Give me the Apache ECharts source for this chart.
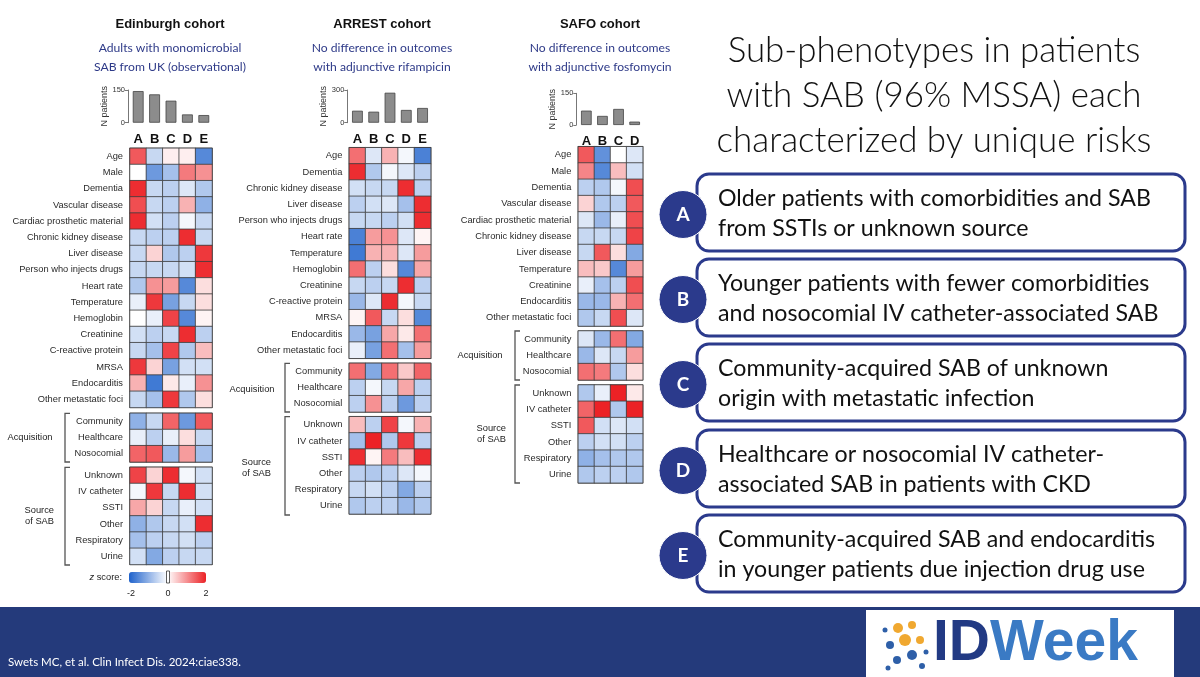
<!DOCTYPE html>
<html><head><meta charset="utf-8">
<script src="https://cdn.jsdelivr.net/npm/echarts@6/dist/echarts.min.js"></script>
<style>html,body{margin:0;padding:0;background:#fff}#c{width:1200px;height:677px}</style>
</head><body><div id="c"></div>
<script>
// ---------- DATA ----------
const acqRows = ['Community','Healthcare','Nosocomial'];
const srcRows = ['Unknown','IV catheter','SSTI','Other','Respiratory','Urine'];

const edinClusters = ['A','B','C','D','E'];
const edinN = [145,130,101,38,35];
const edinFeatures = ['Age','Male','Dementia','Vascular disease','Cardiac prosthetic material','Chronic kidney disease','Liver disease','Person who injects drugs','Heart rate','Temperature','Hemoglobin','Creatinine','C-reactive protein','MRSA','Endocarditis','Other metastatic foci'];
const edinFeatZ = [
 [1.5,-0.5,0.15,0.15,-1.5],
 [0,-1.3,-0.8,1.2,1.0],
 [1.9,-0.5,-0.6,-0.3,-0.7],
 [1.6,-0.5,-0.6,0.7,-1.0],
 [1.9,-0.4,-0.6,-0.1,-0.5],
 [-0.5,-0.6,-0.6,1.9,-0.5],
 [-0.5,0.4,-0.7,-0.6,1.8],
 [-0.5,-0.5,-0.5,-0.4,1.9],
 [-0.7,1.0,0.9,-1.5,0.3],
 [-0.2,1.8,-1.2,-0.5,0.3],
 [0,-0.2,1.7,-1.5,0.1],
 [-0.4,-0.6,-0.5,1.9,-0.6],
 [-0.5,-0.8,1.7,-0.7,0.6],
 [1.8,0.4,-1.2,-0.4,-0.4],
 [0.7,-1.7,0.2,-0.2,1.0],
 [-0.5,-0.8,1.8,-0.7,0.3]
];
const edinAcqZ = [
 [-1.0,-0.5,1.4,-1.3,1.5],
 [-0.2,-0.6,-0.2,0.3,-0.5],
 [1.4,1.5,-0.9,0.9,-0.8]
];
const edinSrcZ = [
 [1.7,0.4,1.9,-0.1,-0.4],
 [-0.1,1.8,-0.5,1.9,-0.4],
 [0.8,0.4,-0.5,-0.2,-0.4],
 [-1.0,-0.7,-0.5,-0.4,1.9],
 [-0.8,-0.6,-0.5,-0.4,-0.6],
 [-0.4,-1.1,-0.6,-0.5,-0.5]
];

const arrestClusters = ['A','B','C','D','E'];
const arrestN = [110,101,275,117,135];
const arrestFeatures = ['Age','Dementia','Chronic kidney disease','Liver disease','Person who injects drugs','Heart rate','Temperature','Hemoglobin','Creatinine','C-reactive protein','MRSA','Endocarditis','Other metastatic foci'];
const arrestFeatZ = [
 [1.3,-0.3,0.7,-0.1,-1.6],
 [1.9,-0.7,-0.1,-0.3,-0.6],
 [-0.4,-0.5,-0.5,1.9,-0.6],
 [-0.6,-0.4,-0.3,-0.8,1.9],
 [-0.5,-0.5,-0.6,-0.4,1.9],
 [-1.6,0.9,1.0,-0.3,0.1],
 [-1.7,0.7,0.7,-0.3,0.9],
 [1.3,-0.6,0.3,-1.5,0.8],
 [-0.5,-0.6,-0.5,1.9,-0.6],
 [-0.9,-0.3,1.9,-0.1,-0.5],
 [0.1,1.5,-0.5,0.3,-1.5],
 [-0.9,-1.2,0.8,0.2,1.3],
 [-0.2,-1.2,1.3,-0.8,0.9]
];
const arrestAcqZ = [
 [1.3,-1.1,1.3,0.5,1.4],
 [-0.6,-0.1,-0.5,0.8,-0.6],
 [-0.6,1.0,-0.6,-1.3,-0.6]
];
const arrestSrcZ = [
 [0.6,-0.6,1.7,-0.1,0.7],
 [-0.8,2.0,-0.7,1.8,-0.6],
 [1.9,0.1,1.2,0.6,1.9],
 [-0.6,-0.7,-0.6,-0.3,-0.1],
 [-0.5,-0.4,-0.6,-1.1,-0.6],
 [-0.7,-0.6,-0.6,-0.9,-0.7]
];

const safoClusters = ['A','B','C','D'];
const safoN = [68,43,76,16];
const safoFeatures = ['Age','Male','Dementia','Vascular disease','Cardiac prosthetic material','Chronic kidney disease','Liver disease','Temperature','Creatinine','Endocarditis','Other metastatic foci'];
const safoFeatZ = [
 [1.5,-1.4,0,-0.3],
 [1.1,-1.5,0.6,-0.4],
 [-0.6,-0.7,-0.1,1.6],
 [0.4,-0.7,-0.6,1.5],
 [-0.3,-0.9,-0.2,1.6],
 [-0.5,-0.5,-0.5,1.7],
 [-0.5,1.5,0.3,-1.1],
 [0.6,0.5,-1.5,0.9],
 [-0.2,-0.8,-0.6,1.6],
 [-0.9,-0.9,0.7,1.3],
 [-0.7,-0.5,1.6,-0.3]
];
const safoAcqZ = [
 [-0.3,-0.9,1.3,-1.1],
 [-0.9,-0.3,-0.5,0.9],
 [1.3,1.2,-0.7,0.3]
];
const safoSrcZ = [
 [-0.7,-0.2,2.0,0.2],
 [1.4,2.0,-0.7,2.0],
 [1.5,-0.4,-0.3,-0.4],
 [-0.6,-0.4,-0.4,-0.6],
 [-1.0,-0.8,-0.7,-0.7],
 [-0.7,-0.6,-0.6,-0.7]
];

const zTicks = ['-2','0','2'];
const summaryLetters = ['A','B','C','D','E'];
const summaryLines = [
 ['Older patients with comorbidities and SAB','from SSTIs or unknown source'],
 ['Younger patients with fewer comorbidities','and nosocomial IV catheter-associated SAB'],
 ['Community-acquired SAB of unknown','origin with metastatic infection'],
 ['Healthcare or nosocomial IV catheter-','associated SAB in patients with CKD'],
 ['Community-acquired SAB and endocarditis','in younger patients due injection drug use']
];
const titleLines = ['Sub-phenotypes in patients','with SAB (96% MSSA) each','characterized by unique risks'];

// ---------- BUILD ----------
const NAVY = '#2b3a8c';
const LABEL_FONT = 'Liberation Sans, Arial, sans-serif';
const CAL = 'Lato, "Open Sans", sans-serif';
const cv = document.createElement('canvas').getContext('2d');
function fit(text, weight, family, target){ cv.font = weight+' 100px '+family; return 100*target/cv.measureText(text).width; }

const grids=[], xAxes=[], yAxes=[], series=[], heatIdx=[];
function toCells(z){ const d=[]; z.forEach((row,r)=>row.forEach((v,c)=>d.push([c,r,v]))); return d; }

function addBars(clusters, n, max, left, top, width, height){
  const gi = grids.length;
  grids.push({left:left, top:top, width:width, height:height, containLabel:false});
  xAxes.push({gridIndex:gi, type:'category', data:clusters, axisLine:{show:false}, axisTick:{show:false},
    axisLabel:{margin:10, fontSize:13, fontWeight:'bold', color:'#111', fontFamily:LABEL_FONT}});
  yAxes.push({gridIndex:gi, type:'value', min:0, max:max, interval:max, offset:2,
    axisLine:{show:true, lineStyle:{color:'#777', width:1}}, axisTick:{show:true, length:3, lineStyle:{color:'#777'}},
    splitLine:{show:false}, axisLabel:{fontSize:7.5, color:'#333', margin:3, fontFamily:LABEL_FONT},
    name:'N patients', nameLocation:'middle', nameRotate:90, nameGap:18,
    nameTextStyle:{fontSize:9, color:'#333', fontFamily:LABEL_FONT}});
  series.push({type:'bar', xAxisIndex:gi, yAxisIndex:gi, data:n, barWidth:'66%',
    itemStyle:{color:'#8c8c8c', borderColor:'#444', borderWidth:0.8}, silent:true});
}
function addHeat(clusters, rows, z, left, top, width, rowH){
  const gi = grids.length;
  grids.push({left:left, top:top, width:width, height:rowH*rows.length, show:true, borderColor:'#333', borderWidth:1.2, backgroundColor:'transparent'});
  xAxes.push({gridIndex:gi, type:'category', data:clusters, show:false});
  yAxes.push({gridIndex:gi, type:'category', data:rows, inverse:true, axisLine:{show:false}, axisTick:{show:false}, splitLine:{show:false},
    axisLabel:{fontSize:9.3, color:'#2a2a2a', margin:7, fontFamily:LABEL_FONT}});
  heatIdx.push(series.length);
  series.push({type:'heatmap', xAxisIndex:gi, yAxisIndex:gi, data:toCells(z), silent:true,
    itemStyle:{borderColor:'#3c3c3c', borderWidth:0.8}});
}

// Edinburgh
addBars(edinClusters, edinN, 150, 130, 90, 82, 32.7);
addHeat(edinClusters, edinFeatures, edinFeatZ, 130, 148.3, 82, 16.2);
addHeat(edinClusters, acqRows, edinAcqZ, 130, 413.3, 82, 16.2);
addHeat(edinClusters, srcRows, edinSrcZ, 130, 467.3, 82, 16.2);
// ARREST
addBars(arrestClusters, arrestN, 300, 349.3, 90, 81.4, 32.7);
addHeat(arrestClusters, arrestFeatures, arrestFeatZ, 349.3, 147.7, 81.4, 16.2);
addHeat(arrestClusters, acqRows, arrestAcqZ, 349.3, 363.3, 81.4, 16.2);
addHeat(arrestClusters, srcRows, arrestSrcZ, 349.3, 416.7, 81.4, 16.2);
// SAFO
addBars(safoClusters, safoN, 150, 578.3, 93.3, 64.4, 31.7);
addHeat(safoClusters, safoFeatures, safoFeatZ, 578.3, 146.7, 64.4, 16.3);
addHeat(safoClusters, acqRows, safoAcqZ, 578.3, 331, 64.4, 16.3);
addHeat(safoClusters, srcRows, safoSrcZ, 578.3, 385, 64.4, 16.3);

// ---------- GRAPHICS ----------
const g = [];
function txt(x,y,text,opt){ g.push({type:'text', x:x, y:y, silent:true, style:Object.assign({text:text, fill:'#222', font:'9.3px '+LABEL_FONT, textAlign:'center', textVerticalAlign:'middle'}, opt||{})}); }
function bracket(x,y1,y2){
  g.push({type:'polyline', silent:true, shape:{points:[[x+5,y1],[x,y1],[x,y2],[x+5,y2]]}, style:{stroke:'#555', lineWidth:1.3, fill:null}});
}
// cohort headers
const heads = [
  {x:170, t:'Edinburgh cohort', s:['Adults with monomicrobial','SAB from UK (observational)']},
  {x:382, t:'ARREST cohort', s:['No difference in outcomes','with adjunctive rifampicin']},
  {x:600, t:'SAFO cohort', s:['No difference in outcomes','with adjunctive fosfomycin']}
];
const subSize = fit('SAB from UK (observational)','normal',CAL,152);
heads.forEach(h=>{
  txt(h.x,24,h.t,{font:'bold 13px '+LABEL_FONT, fill:'#111'});
  txt(h.x,48,h.s[0],{font:'normal '+subSize.toFixed(2)+'px '+CAL, fill:'#2e3a88'});
  txt(h.x,67,h.s[1],{font:'normal '+subSize.toFixed(2)+'px '+CAL, fill:'#2e3a88'});
});
// group labels & brackets
bracket(65,413.3,462);  bracket(65,467.3,565);
txt(30,437,'Acquisition'); txt(54,510,'Source',{textAlign:'right'}); txt(54,521,'of SAB',{textAlign:'right'});
bracket(285,363.3,412); bracket(285,416.7,515);
txt(252,389,'Acquisition'); txt(271,462,'Source',{textAlign:'right'}); txt(271,473,'of SAB',{textAlign:'right'});
bracket(515,331,380); bracket(515,385,483);
txt(480,355,'Acquisition'); txt(506,428,'Source',{textAlign:'right'}); txt(506,439,'of SAB',{textAlign:'right'});
// colorbar labels
txt(122,577,'{i|z} score:',{textAlign:'right', rich:{i:{fontStyle:'italic', fontSize:9.3, fontFamily:LABEL_FONT}}});
const cbX = [131,168,206];
zTicks.forEach((t,i)=>txt(cbX[i],594,t,{font:'9px '+LABEL_FONT}));
g.push({type:'rect', silent:true, z:200, shape:{x:166.5,y:571,width:3,height:12}, style:{fill:'#fff', stroke:'#333', lineWidth:0.8}});

// right title
const tSize = fit(titleLines[2],'300',CAL,435);
const ty = [51,96,141];
titleLines.forEach((l,i)=>txt(934,ty[i],l,{font:'300 '+tSize.toFixed(2)+'px '+CAL, fill:'#111'}));
// summary boxes
const boxTop = [174,259,344,430,515], boxH = 77;
const bSize = fit(summaryLines[0][0],'normal',CAL,433);
summaryLetters.forEach((L,i)=>{
  const y0 = boxTop[i];
  g.push({type:'rect', silent:true, shape:{x:697,y:y0,width:488,height:boxH,r:12}, style:{fill:'#fff', stroke:NAVY, lineWidth:3}});
  g.push({type:'circle', silent:true, shape:{cx:683, cy:y0+boxH/2+2, r:24}, style:{fill:NAVY, stroke:'#fff', lineWidth:1}});
  txt(683, y0+boxH/2+2, L, {font:'bold 19px '+CAL, fill:'#fff'});
  txt(718, y0+25, summaryLines[i][0], {font:'normal '+bSize.toFixed(2)+'px '+CAL, fill:'#111', textAlign:'left'});
  txt(718, y0+55, summaryLines[i][1], {font:'normal '+bSize.toFixed(2)+'px '+CAL, fill:'#111', textAlign:'left'});
});
// footer
g.push({type:'rect', silent:true, shape:{x:0,y:607,width:1200,height:70}, style:{fill:'#243a7b'}});
g.push({type:'rect', silent:true, shape:{x:866,y:610,width:308,height:67}, style:{fill:'#fff'}});
txt(8,662,'Swets MC, et al. Clin Infect Dis. 2024:ciae338.',{textAlign:'left', font:'11.5px '+CAL, fill:'#fff'});
txt(933,644,'{a|ID}{b|Week}',{textAlign:'left', rich:{
  a:{fontSize:57, fontWeight:'bold', fontFamily:LABEL_FONT, fill:'#223a84'},
  b:{fontSize:57, fontWeight:'bold', fontFamily:LABEL_FONT, fill:'#3a7ac4'}}});
// logo dots
const dots=[[898,628,5,'#f0a830'],[912,625,4,'#f0a830'],[905,640,6,'#f0a830'],[920,640,4,'#f0a830'],[890,645,4,'#2e5fa8'],[912,655,5,'#2e5fa8'],[897,660,4,'#2e5fa8'],[922,666,3,'#2e5fa8'],[885,630,2.5,'#2e5fa8'],[926,652,2.5,'#2e5fa8'],[888,668,2.5,'#2e5fa8']];
dots.forEach(d=>g.push({type:'circle', silent:true, shape:{cx:d[0],cy:d[1],r:d[2]}, style:{fill:d[3]}}));

const chart = echarts.init(document.getElementById('c'), null, {renderer:'canvas'});
chart.setOption({
  animation:false,
  backgroundColor:'#fff',
  grid:grids, xAxis:xAxes, yAxis:yAxes, series:series,
  visualMap:[{type:'continuous', min:-2, max:2, seriesIndex:heatIdx, orient:'horizontal', left:129, top:572,
    itemWidth:11, itemHeight:77, calculable:false, text:null, showLabel:false, padding:0, hoverLink:false,
    inRange:{color:['#1e62cc','#ffffff','#ec2226']}}],
  graphic:{elements:g}
});
</script></body></html>
